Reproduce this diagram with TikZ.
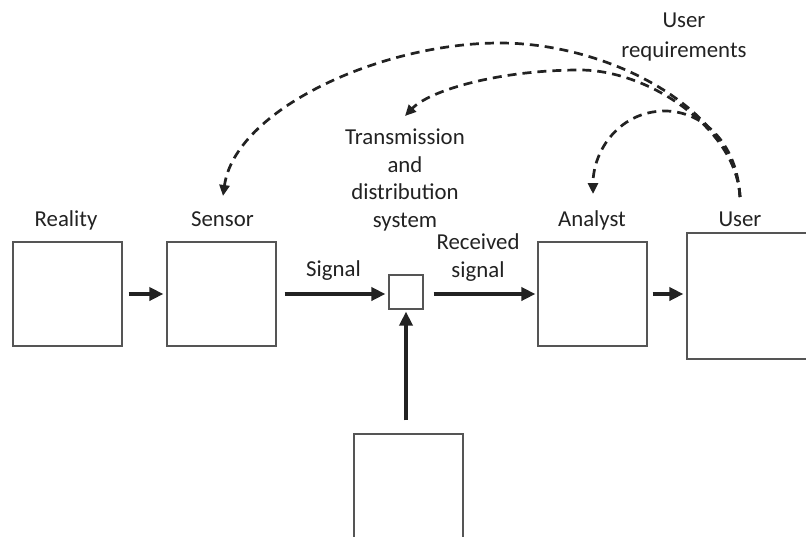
\documentclass[tikz,border=0pt]{standalone}
\usepackage{fontspec}
\setmainfont{Carlito}
\usetikzlibrary{arrows.meta}
\definecolor{ink}{HTML}{222222}
\definecolor{boxline}{HTML}{555555}
\begin{document}
\begin{tikzpicture}[x=1pt,y=-1pt,
  box/.style={draw=boxline, line width=1.2pt, fill=white, inner sep=0pt},
  lbl/.style={text=ink, font=\fontsize{22.8}{27.6}\selectfont, inner sep=0pt, align=center},
  flow/.style={draw=ink, line width=4pt, -{Triangle[length=14pt,width=13pt]}},
  req/.style={draw=ink, line width=2.7pt, dash pattern=on 9pt off 6pt, -{Triangle[length=11pt,width=10pt]}}]
\clip (0,0) rectangle (806,536);
\fill[white] (0,0) rectangle (806,536);
% boxes
\node[box, minimum width=109pt, minimum height=104pt] (reality) at (67.5,294) {};
\node[box, minimum width=109pt, minimum height=104pt] (sensor) at (221.5,294) {};
\node[box, minimum width=34pt, minimum height=34pt] (small) at (406,292) {};
\node[box, minimum width=109pt, minimum height=104pt] (analyst) at (592.5,294) {};
\node[box, minimum width=123pt, minimum height=126pt] (user) at (748.5,296) {};
\node[box, minimum width=109pt, minimum height=106pt] (bottom) at (408.5,487) {};
% labels (base anchor = baseline of the last line)
\node[lbl, anchor=base] (lreality) at (66,226) {Reality};
\node[lbl, anchor=base] (lsensor) at (222.5,226) {Sensor};
\node[lbl, anchor=base] (lanalyst) at (592,226) {Analyst};
\node[lbl, anchor=base] (luser) at (740,226) {User};
\node[lbl, anchor=base] (lsignal) at (333.5,276) {Signal};
\node[lbl, anchor=base] (lreceived) at (478,277) {Received\\signal};
\node[lbl, anchor=base] (ltrans) at (405,227.5) {Transmission\\and\\distribution\\system};
\node[lbl, anchor=base, font=\fontsize{22.8}{30}\selectfont] (lreq) at (684,57) {User\\requirements};
% flow arrows
\draw[flow, shorten <=6pt, shorten >=3pt] (reality.east) -- (sensor.west);
\draw[flow, shorten <=8pt, shorten >=3pt] (sensor.east) -- (sensor.east -| small.west);
\draw[flow, shorten <=10pt, shorten >=2pt] (small.east |- analyst.west) -- (analyst.west);
\draw[flow, shorten <=5pt, shorten >=3pt] (analyst.east) -- (analyst.east -| user.west);
\draw[flow, shorten <=13pt, shorten >=2pt] (bottom.north -| small.south) -- (small.south);
% user requirement feedback
\coordinate (ureq) at (740,197);
\coordinate (sensorin) at (223,196);
\coordinate (transin) at (405,116);
\coordinate (analystin) at (593,194);
\draw[req] (ureq) .. controls (735,110) and (610,43) .. (500,43) .. controls (380,43) and (235,110) .. (sensorin);
\draw[req] (ureq) .. controls (737,130) and (650,70) .. (580,70) .. controls (500,70) and (430,90) .. (transin);
\draw[req] (ureq) .. controls (737,140) and (700,111) .. (665,111) .. controls (620,111) and (593,150) .. (analystin);
\end{tikzpicture}
\end{document}
